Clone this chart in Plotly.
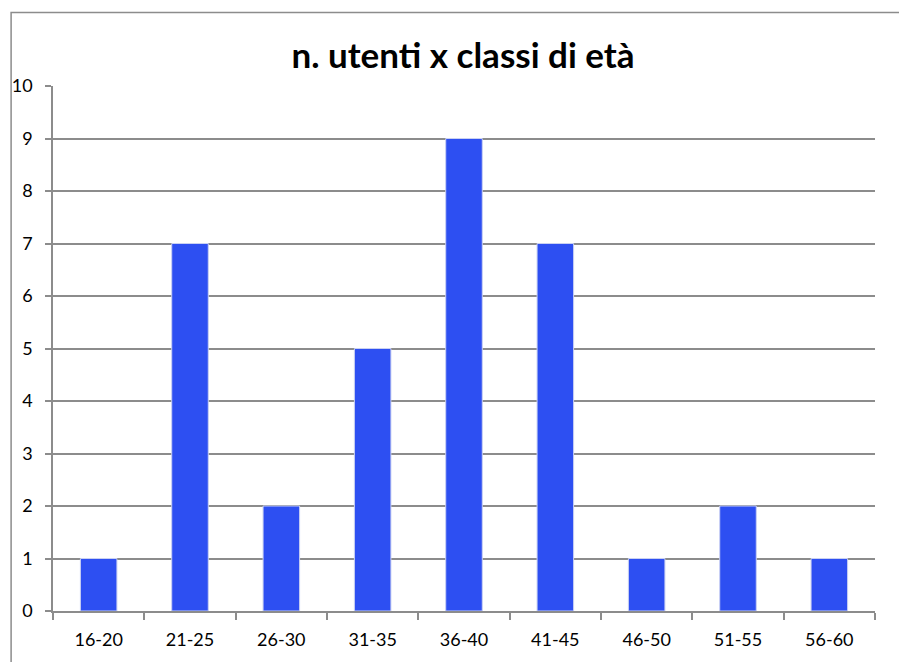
import plotly.graph_objects as go

categories = ["16-20", "21-25", "26-30", "31-35", "36-40", "41-45", "46-50", "51-55", "56-60"]
values = [1, 7, 2, 5, 9, 7, 1, 2, 1]
y_ticks = list(range(0, 11))

W, H = 899, 662
L, R, T, B = 51, 24, 86, 48
pw, ph = W - L - R, H - T - B

fig = go.Figure(go.Bar(
    x=categories, y=values,
    marker=dict(color="#2D4FF2", line=dict(color="#C9D0F2", width=1)),
    width=0.4,
))

grid = "#8C8C8C"
fig.update_layout(
    width=W, height=H,
    margin=dict(l=L, r=R, t=T, b=B),
    paper_bgcolor="white", plot_bgcolor="white",
    showlegend=False,
    title=dict(text="<b>n. utenti x classi di età</b>", x=(462 - L) / pw, xref="paper", xanchor="center",
               y=1 - 56 / H, yanchor="middle",
               font=dict(family="Lato", size=35, color="black")),
    font=dict(family="Lato", size=18, color="black"),
    xaxis=dict(type="category", tickson="boundaries", ticks="outside", ticklen=7, tickcolor=grid,
               tickwidth=1.5, showline=True, linecolor=grid, linewidth=1.5, showgrid=False,
               ticklabelstandoff=12),
    yaxis=dict(range=[0, 10], tickvals=y_ticks, ticks="outside", ticklen=6, tickcolor=grid,
               tickwidth=1.5, showline=True, linecolor=grid, linewidth=1.5,
               showgrid=True, gridcolor=grid, gridwidth=1.5, zeroline=False,
               ticklabelstandoff=9),
    shapes=[dict(type="rect", xref="paper", yref="paper",
                 x0=(9 - L) / pw, x1=(W + 10 - L) / pw,
                 y0=-(H + 10 - T - ph) / ph, y1=1 + (T - 12) / ph,
                 line=dict(color="#8C8C8C", width=1.5), fillcolor="rgba(0,0,0,0)", layer="below")],
)

fig.write_html("out.html", config={"displayModeBar": False},
               post_script="document.body.style.margin='0';document.body.style.overflow='hidden';")
